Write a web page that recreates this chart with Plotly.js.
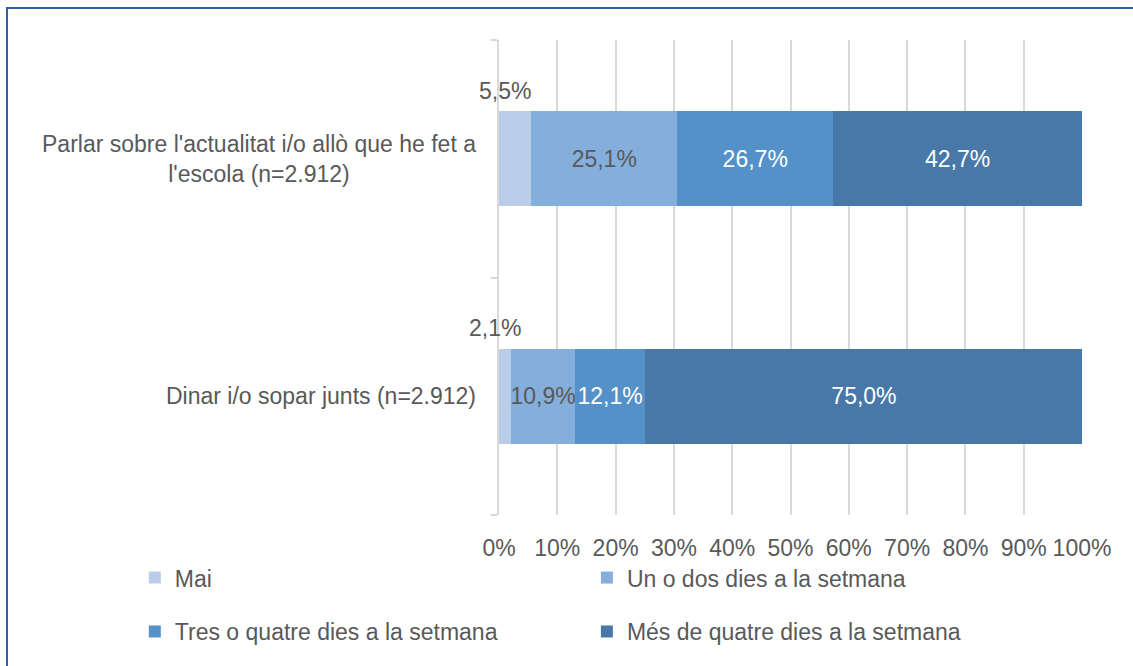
<!DOCTYPE html>
<html>
<head>
<meta charset="utf-8">
<script src="https://cdn.plot.ly/plotly-3.0.1.min.js"></script>
<style>
html,body{margin:0;padding:0;background:#fff;}
#wrap{position:relative;width:1133px;height:666px;overflow:hidden;}
#chart{position:absolute;left:0;top:0;width:1133px;height:666px;}
#frame{position:absolute;left:6px;top:7px;width:1200px;height:700px;border-left:2px solid #2F5FA7;border-top:2px solid #2F5FA7;pointer-events:none;}
</style>
</head>
<body>
<div id="wrap"><div id="chart"></div><div id="frame"></div></div>
<script>
// Categories (bottom to top as drawn)
const categories = ["Dinar i/o sopar junts (n=2.912)", "Parlar sobre l'actualitat i/o allò que he fet a l'escola (n=2.912)"];
const categoryLabels = ["Dinar i/o sopar junts (n=2.912)", "Parlar sobre l'actualitat i/o allò que he fet a<br>l'escola (n=2.912)"];
const seriesNames = ["Mai", "Un o dos dies a la setmana", "Tres o quatre dies a la setmana", "Més de quatre dies a la setmana"];
const mai = [2.1, 5.5];
const unODos = [10.9, 25.1];
const tresOQuatre = [12.1, 26.7];
const mesDeQuatre = [75.0, 42.7];
const tickVals = [0,10,20,30,40,50,60,70,80,90,100];
const tickText = ["0%","10%","20%","30%","40%","50%","60%","70%","80%","90%","100%"];

const colors = ["#B9CDE9", "#84AEDB", "#5491C8", "#4778A8"];
const labelColors = ["#595959", "#595959", "#FFFFFF", "#FFFFFF"];
const FONT = "Liberation Sans, Arial, sans-serif";
const FS = 23;
const fmt = v => v.toFixed(1).replace('.', ',') + '%';

const seriesValues = [mai, unODos, tresOQuatre, mesDeQuatre];
const legendFor = ["legend", "legend2", "legend", "legend2"];
const traces = seriesValues.map((vals, i) => ({
  type: 'bar',
  orientation: 'h',
  name: seriesNames[i],
  x: vals,
  y: categories,
  marker: {color: colors[i], line: {width: 0}},
  text: i === 0 ? vals.map(() => '') : vals.map(fmt),
  textposition: i === 0 ? 'none' : 'inside',
  insidetextanchor: 'middle',
  textangle: 0,
  textfont: {family: FONT, size: FS, color: labelColors[i]},
  constraintext: 'none',
  cliponaxis: true,
  legend: legendFor[i],
  legendgroup: 'g' + i,
  hoverinfo: 'skip'
}));

const annotations = [];
categories.forEach((c, i) => {
  annotations.push({
    xref: 'paper', yref: 'y', x: 0, y: c, xanchor: 'right', yanchor: 'middle',
    xshift: -21, text: categoryLabels[i], align: 'center', showarrow: false,
    font: {family: FONT, size: FS, color: '#595959'}
  });
  annotations.push({
    xref: 'x', yref: 'y', x: mai[i] / 2, y: c, xanchor: 'center', yanchor: 'middle',
    xshift: -10, yshift: 68, text: fmt(mai[i]), showarrow: false,
    font: {family: FONT, size: FS, color: '#595959'}
  });
});

const layout = {
  width: 1133, height: 666,
  margin: {l: 499, r: 51, t: 40, b: 151, autoexpand: false},
  paper_bgcolor: '#fff', plot_bgcolor: '#fff',
  barmode: 'stack',
  bargap: 0.6,
  font: {family: FONT, size: FS, color: '#595959'},
  showlegend: true,
  hovermode: false,
  xaxis: {
    range: [0, 100], tickvals: tickVals, ticktext: tickText, tickangle: 0,
    showgrid: true, gridcolor: '#D9D9D9', gridwidth: 2,
    zeroline: false, showline: false, ticks: '', ticklabelstandoff: 17,
    tickfont: {family: FONT, size: FS, color: '#595959'},
    automargin: false, fixedrange: true
  },
  yaxis: {
    type: 'category', categoryorder: 'array', categoryarray: categories,
    range: [-0.5, 1.5], showticklabels: false, showgrid: false, zeroline: false,
    showline: true, linecolor: '#D9D9D9', linewidth: 2,
    ticks: 'outside', tickson: 'boundaries', ticklen: 6, tickcolor: '#D9D9D9', tickwidth: 2,
    automargin: false, fixedrange: true
  },
  legend: {
    xref: 'container', yref: 'container', x: 0.119, y: 0.165, xanchor: 'left', yanchor: 'top',
    orientation: 'v', tracegroupgap: 21, bgcolor: 'rgba(0,0,0,0)', traceorder: 'grouped',
    font: {family: FONT, size: FS, color: '#595959'}
  },
  legend2: {
    xref: 'container', yref: 'container', x: 0.518, y: 0.165, xanchor: 'left', yanchor: 'top',
    orientation: 'v', tracegroupgap: 21, bgcolor: 'rgba(0,0,0,0)', traceorder: 'grouped',
    font: {family: FONT, size: FS, color: '#595959'}
  },
  annotations: annotations
};

Plotly.newPlot('chart', traces, layout, {displayModeBar: false, staticPlot: true});
</script>
</body>
</html>
